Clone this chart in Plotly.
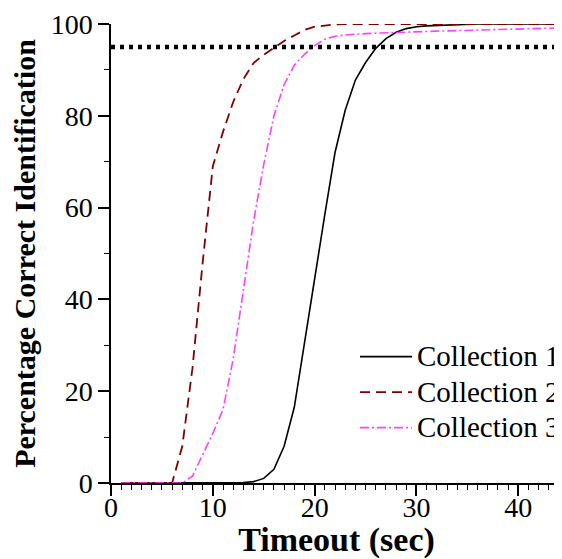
import plotly.graph_objects as go

timeout = list(range(1, 46))

collection1 = [0]*12 + [0.1, 0.3, 1.0, 3.0, 8.0, 16.5, 30.0, 44.5, 58.5, 72.0, 81.2, 87.8,
                        91.6, 94.7, 96.8, 98.2, 99.0, 99.4, 99.6, 99.7, 99.8, 99.8, 99.9,
                        100, 100, 100, 100, 100, 100, 100, 100, 100, 100]
collection2 = [0]*6 + [8.0, 25.0, 48.0, 69.0, 76.5, 83.0, 88.0, 91.5, 93.3, 94.8, 96.3, 97.5,
                       98.7, 99.4, 99.7, 99.9] + [100]*23
collection3 = [0]*7 + [1.5, 6.3, 10.8, 16.0, 27.0, 42.0, 57.0, 69.4, 80.0, 86.8, 91.0, 93.4,
                       95.3, 96.7, 97.3, 97.6, 97.8, 97.9, 98.0, 98.1, 98.2, 98.25, 98.3,
                       98.4, 98.45, 98.5, 98.55, 98.6, 98.65, 98.7, 98.75, 98.8, 98.85,
                       98.9, 99.0, 99.05, 99.1, 99.2]
threshold = 95

names = ["Collection 1", "Collection 2", "Collection 3"]
colors = ["#000000", "#800000", "#ff40ff"]
dashes = ["solid", "10px,6px", "9px,3px,2px,3px"]
widths = [1.6, 1.8, 1.6]

FONT = "Liberation Serif, Times New Roman, serif"

fig = go.Figure()
for name, ys, c, d, w in zip(names, [collection1, collection2, collection3], colors, dashes, widths):
    fig.add_trace(go.Scatter(x=timeout, y=ys, mode="lines",
                             name="<span style='font-size:29px'>" + name + "</span>",
                             line=dict(color=c, dash=d, width=w)))

fig.add_trace(go.Scatter(x=[0, 46], y=[threshold, threshold], mode="lines", showlegend=False,
                         line=dict(color="black", width=4.5, dash="4px,5px")))

fig.update_layout(
    width=554, height=551,
    margin=dict(l=103, r=0, t=16, b=76, autoexpand=False),
    paper_bgcolor="white", plot_bgcolor="white",
    font=dict(family=FONT, color="black", size=28),
    showlegend=True,
    legend=dict(x=0.541, y=0.325, xanchor="left", yanchor="top",
                bgcolor="rgba(0,0,0,0)", font=dict(size=25, family=FONT),
                itemwidth=52, tracegroupgap=0),
)
fig.update_xaxes(
    range=[0, 44.29], showgrid=False, zeroline=False,
    showline=True, linecolor="black", linewidth=1.5,
    ticks="outside", ticklen=11, tickwidth=1.5, tickcolor="black",
    tick0=0, dtick=10, tickfont=dict(size=28, family=FONT), ticklabelstandoff=-12,
    minor=dict(ticks="outside", ticklen=5, tickwidth=1.2, tickcolor="black", dtick=1, showgrid=False),
    title=dict(text="<b>Timeout (sec)</b>", font=dict(size=34, family=FONT), standoff=6),
    automargin=False,
)
fig.update_yaxes(
    range=[0, 100], showgrid=False, zeroline=False,
    showline=True, linecolor="black", linewidth=1.5,
    ticks="outside", ticklen=11, tickwidth=1.5, tickcolor="black",
    tick0=0, dtick=20, tickfont=dict(size=28, family=FONT),
    minor=dict(ticks="outside", ticklen=5, tickwidth=1.2, tickcolor="black", dtick=10, showgrid=False),
    title=dict(text="<b>Percentage Correct Identification</b>", font=dict(size=30, family=FONT), standoff=15),
    automargin=False,
)

fig.write_html("out.html")
